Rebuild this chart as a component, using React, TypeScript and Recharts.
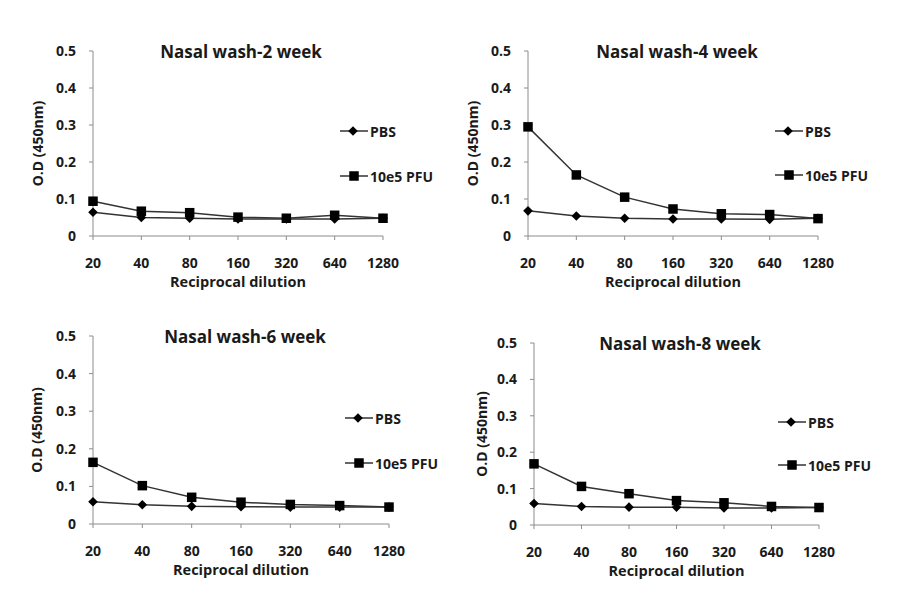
import React from 'react';
import { LineChart, Line, XAxis, YAxis, Legend } from 'recharts';

// ---------- data ----------
const dilutions = ['20', '40', '80', '160', '320', '640', '1280'];
const yTicks = [0, 0.1, 0.2, 0.3, 0.4, 0.5];
const seriesKeys = ['pbs', 'pfu'];
const seriesNames = ['PBS', '10e5 PFU'];
const titles = ['Nasal wash-2 week', 'Nasal wash-4 week', 'Nasal wash-6 week', 'Nasal wash-8 week'];
const yTitle = 'O.D (450nm)';
const xTitle = 'Reciprocal dilution';

const pbsWeek2 = [0.064, 0.05, 0.048, 0.046, 0.046, 0.046, 0.048];
const pfuWeek2 = [0.094, 0.067, 0.063, 0.051, 0.048, 0.056, 0.048];
const pbsWeek4 = [0.068, 0.054, 0.048, 0.046, 0.046, 0.045, 0.048];
const pfuWeek4 = [0.295, 0.165, 0.105, 0.073, 0.06, 0.058, 0.047];
const pbsWeek6 = [0.059, 0.051, 0.047, 0.046, 0.045, 0.045, 0.045];
const pfuWeek6 = [0.164, 0.102, 0.071, 0.058, 0.052, 0.049, 0.045];
const pbsWeek8 = [0.059, 0.051, 0.049, 0.049, 0.047, 0.047, 0.048];
const pfuWeek8 = [0.168, 0.106, 0.086, 0.067, 0.061, 0.051, 0.048];

// ---------- styling / layout ----------
const FONT = '"Open Sans", "Noto Sans", sans-serif';
const TXT = '#1a1a1a';
const LINE = '#333333';
const AXIS = '#8c8c8c';
const CW = 450;
const CH = 300;
const XH = 60;

const layouts = [
  { left: 0, top: 0, plotL: 93, plotR: 383, plotT: 51, plotB: 236, titleX: 241, ylabX: 38, legX: 340, legY: 131, legGap: 45 },
  { left: 450, top: 0, plotL: 78, plotR: 368, plotT: 51, plotB: 236, titleX: 227, ylabX: 23, legX: 325, legY: 131, legGap: 44 },
  { left: 0, top: 300, plotL: 93, plotR: 389, plotT: 36, plotB: 224, titleX: 245, ylabX: 37, legX: 345, legY: 118, legGap: 45 },
  { left: 450, top: 300, plotL: 84, plotR: 369, plotT: 43, plotB: 225, titleX: 230, ylabX: 32, legX: 328, legY: 122, legGap: 43 },
];

const panelData = [
  [pbsWeek2, pfuWeek2],
  [pbsWeek4, pfuWeek4],
  [pbsWeek6, pfuWeek6],
  [pbsWeek8, pfuWeek8],
];

const buildRows = (pbs: number[], pfu: number[]) =>
  dilutions.map((d, i) => ({ dil: d, pbs: pbs[i], pfu: pfu[i] }));

const Diamond = ({ cx, cy }: { cx: number; cy: number }) => {
  const r = 4.8;
  return <polygon points={`${cx},${cy - r} ${cx + r},${cy} ${cx},${cy + r} ${cx - r},${cy}`} fill="#000" />;
};
const Square = ({ cx, cy }: { cx: number; cy: number }) => {
  const s = 9.5;
  return <rect x={cx - s / 2} y={cy - s / 2} width={s} height={s} fill="#000" />;
};

const diamondDot = (p: any) =>
  p.cx == null ? <g key={`dd-${p.index}`} /> : (
    <g key={`dd-${p.index}`}><Diamond cx={p.cx} cy={p.cy} /></g>
  );
const squareDot = (p: any) =>
  p.cx == null ? <g key={`sd-${p.index}`} /> : (
    <g key={`sd-${p.index}`}><Square cx={p.cx} cy={p.cy} /></g>
  );

const makeLegend = (gap: number) => (props: any) => {
  const payload = [...(props.payload || [])].sort(
    (a: any, b: any) => seriesKeys.indexOf(a.dataKey) - seriesKeys.indexOf(b.dataKey)
  );
  return (
    <div style={{ fontFamily: FONT, fontWeight: 700, fontSize: 14, color: TXT }}>
      {payload.map((e: any) => (
        <div key={e.value} style={{ height: gap, display: 'flex', alignItems: 'center' }}>
          <svg width={28} height={14} style={{ display: 'block' }}>
            <line x1={0} y1={7} x2={28} y2={7} stroke={LINE} strokeWidth={1.5} />
            {e.dataKey === 'pbs' ? <Diamond cx={13} cy={7} /> : <Square cx={14} cy={7} />}
          </svg>
          <span style={{ marginLeft: 2, whiteSpace: 'nowrap' }}>{e.value}</span>
        </div>
      ))}
    </div>
  );
};

const tickStyle = { fill: TXT, fontSize: 14, fontWeight: 700, fontFamily: FONT };

const Panel = ({ idx }: { idx: number }) => {
  const L = layouts[idx];
  const [pbs, pfu] = panelData[idx];
  const rows = buildRows(pbs, pfu);
  return (
    <div style={{ position: 'absolute', left: L.left, top: L.top, width: CW, height: CH }}>
      <LineChart
        width={CW}
        height={CH}
        data={rows}
        margin={{ top: L.plotT, right: CW - L.plotR, left: 0, bottom: CH - L.plotB - XH }}
      >
        <XAxis
          dataKey="dil"
          type="category"
          height={XH}
          padding={{ left: 0, right: 0 }}
          stroke={AXIS}
          tickLine={{ stroke: AXIS }}
          tickSize={4}
          tickMargin={18}
          interval={0}
          tick={tickStyle}
          label={{ value: xTitle, position: 'insideBottom', offset: 9, fill: TXT, fontSize: 14.5, fontWeight: 700, fontFamily: FONT }}
        />
        <YAxis
          type="number"
          domain={[0, 0.5]}
          ticks={yTicks}
          width={L.plotL}
          stroke={AXIS}
          tickLine={{ stroke: AXIS }}
          tickSize={4}
          tickMargin={13}
          interval={0}
          tickFormatter={(v: number) => (v === 0 ? '0' : v.toFixed(1))}
          tick={tickStyle}
          label={{
            value: yTitle,
            angle: -90,
            position: 'insideLeft',
            offset: L.ylabX,
            fill: TXT,
            fontSize: 14,
            fontWeight: 700,
            fontFamily: FONT,
            style: { textAnchor: 'middle' },
          }}
        />
        <Legend
          layout="horizontal"
          align="center"
          verticalAlign="middle"
          content={makeLegend(L.legGap)}
          wrapperStyle={{ left: L.legX, top: L.legY - L.legGap / 2, width: 'auto', height: 'auto' }}
        />
        <Line
          dataKey="pbs"
          name={seriesNames[0]}
          stroke={LINE}
          strokeWidth={1.5}
          dot={diamondDot}
          activeDot={false}
          isAnimationActive={false}
        />
        <Line
          dataKey="pfu"
          name={seriesNames[1]}
          stroke={LINE}
          strokeWidth={1.5}
          dot={squareDot}
          activeDot={false}
          isAnimationActive={false}
        />
      </LineChart>
      <div
        style={{
          position: 'absolute',
          left: L.titleX,
          top: L.plotT,
          transform: 'translate(-50%, -50%)',
          fontFamily: FONT,
          fontWeight: 700,
          fontSize: 17,
          color: TXT,
          whiteSpace: 'nowrap',
          pointerEvents: 'none',
        }}
      >
        {titles[idx]}
      </div>
    </div>
  );
};

export default function App() {
  return (
    <div style={{ position: 'absolute', left: 0, top: 0, width: 901, height: 615, background: '#fff', overflow: 'hidden' }}>
      {layouts.map((_, i) => (
        <Panel key={i} idx={i} />
      ))}
    </div>
  );
}
